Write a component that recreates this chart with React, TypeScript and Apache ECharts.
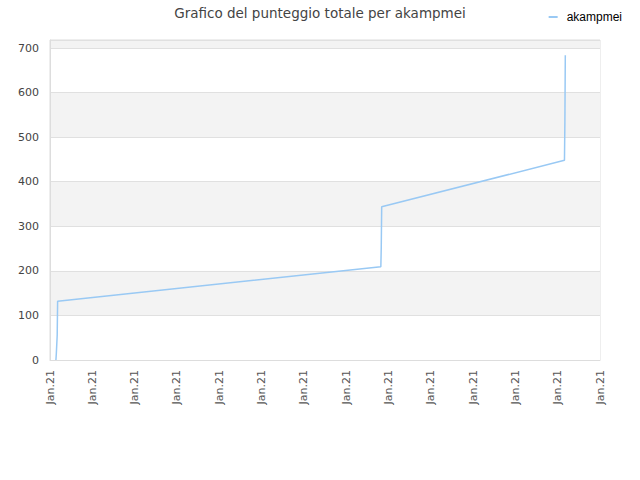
import { useEffect, useRef } from "react";
import * as echarts from "echarts";

const TITLE = "Grafico del punteggio totale per akampmei";
const SERIES_NAME = "akampmei";

// x in tick units (one tick per label), y = total score
const scoreX = [0.14, 0.15, 0.17, 0.18, 7.82, 7.83, 7.84, 12.16, 12.17, 12.18];
const scoreY = [0, 15, 55, 132, 209, 254, 344, 448, 534, 684];

const X_TICK_COUNT = 13;
const X_TICK_LABEL = "Jan.21";
const Y_MAX = 718;
const Y_STEP = 100;

const LINE_COLOR = "#99c9f4";


export default function App() {
  const containerRef = useRef<HTMLDivElement | null>(null);

  useEffect(() => {
    if (!containerRef.current) {
      return;
    }

    const chart = echarts.init(containerRef.current, undefined, { renderer: "svg" });

    const option: echarts.EChartsOption = {
      animation: false,
      backgroundColor: "#ffffff",
      title: {
        text: TITLE,
        left: "center",
        top: 1,
        textStyle: {
          fontFamily: "'DejaVu Sans', sans-serif",
          fontSize: 13.5,
          fontWeight: "normal",
          color: "#444444",
        },
      },
      legend: {
        right: 13,
        top: 6,
        icon: "rect",
        itemWidth: 9,
        itemHeight: 2,
        itemGap: 8,
        textStyle: {
          fontFamily: "'Liberation Sans', Arial, sans-serif",
          fontSize: 12,
          color: "#000000",
          padding: [0, 0, 0, 4],
        },
        data: [SERIES_NAME],
      },
      grid: {
        left: 50,
        right: 40,
        top: 40,
        bottom: 120,
        show: true,
        borderColor: "#dddddd",
        borderWidth: 1,
      },
      xAxis: {
        type: "value",
        min: 0,
        max: X_TICK_COUNT,
        interval: 1,
        axisTick: { show: false },
        axisLine: { lineStyle: { color: "#dddddd" } },
        splitLine: { show: false },
        axisLabel: {
          rotate: 90,
          margin: 10,
          color: "#555555",
          fontFamily: "'DejaVu Sans', sans-serif",
          fontSize: 11,
          formatter: () => X_TICK_LABEL,
        },
      },
      yAxis: {
        type: "value",
        min: 0,
        max: Y_MAX,
        interval: Y_STEP,
        axisTick: { show: false },
        axisLine: { show: true, lineStyle: { color: "#dddddd" } },
        splitLine: { lineStyle: { color: "#e0e0e0" } },
        splitArea: {
          show: true,
          areaStyle: { color: ["#ffffff", "#f3f3f3"] },
        },
        axisLabel: {
          margin: 11,
          color: "#444444",
          fontFamily: "'DejaVu Sans', sans-serif",
          fontSize: 11,
          formatter: (value: number) => (value % Y_STEP === 0 ? String(value) : ""),
        },
      },
      series: [
        {
          name: SERIES_NAME,
          type: "line",
          showSymbol: false,
          symbol: "none",
          color: LINE_COLOR,
          lineStyle: { color: LINE_COLOR, width: 1.5 },
          data: scoreX.map((x, index) => [x, scoreY[index]]),
        },
      ],
    };

    chart.setOption(option);

    return () => {
      chart.dispose();
    };
  }, []);

  return (
    <div
      ref={containerRef}
      style={{ position: "fixed", left: 0, top: 0, width: 640, height: 480 }}
    />
  );
}
